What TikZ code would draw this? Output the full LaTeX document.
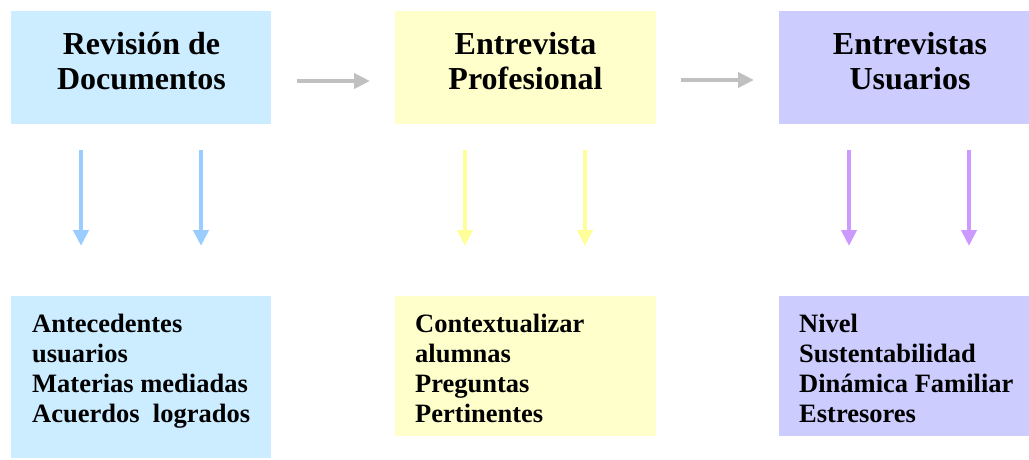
\documentclass[tikz,border=0pt]{standalone}
\usepackage{fontspec}
\setmainfont{Liberation Serif}
\usetikzlibrary{arrows.meta}
\definecolor{boxblue}{HTML}{CCECFF}
\definecolor{boxyellow}{HTML}{FFFFCC}
\definecolor{boxlav}{HTML}{CCCCFF}
\definecolor{arrblue}{HTML}{99CCFF}
\definecolor{arryellow}{HTML}{FFFF99}
\definecolor{arrpurple}{HTML}{CC99FF}
\definecolor{arrgray}{HTML}{C0C0C0}
\tikzset{
  panel/.style={draw=none, inner sep=0pt, anchor=north west},
  titletext/.style={align=center, inner sep=0pt, font=\bfseries\fontsize{32}{35}\selectfont},
  listtext/.style={align=left, inner sep=0pt, anchor=base west, font=\bfseries\fontsize{26.5}{30}\selectfont},
  flow/.style={line width=4pt, -{Triangle[length=16pt,width=15pt]}},
}
\begin{document}
\begin{tikzpicture}[x=1pt,y=-1pt]
\useasboundingbox (0,0) rectangle (1029,460);
\clip (0,0) rectangle (1029,460);
% top boxes
\node[panel, fill=boxblue, minimum width=260pt, minimum height=113pt] (t1) at (11,11) {};
\node[panel, fill=boxyellow, minimum width=261pt, minimum height=113pt] (t2) at (395,11) {};
\node[panel, fill=boxlav, minimum width=262pt, minimum height=113pt] (t3) at (779,11) {};
% bottom boxes
\node[panel, fill=boxblue, minimum width=260pt, minimum height=162pt] (b1) at (11,296) {};
\node[panel, fill=boxyellow, minimum width=261pt, minimum height=140pt] (b2) at (395,296) {};
\node[panel, fill=boxlav, minimum width=262pt, minimum height=140pt] (b3) at (779,296) {};
% titles
\node[titletext] (tt1) at (141.5,61.5) {Revisión de\\Documentos};
\node[titletext] (tt2) at (525.5,61.5) {Entrevista\\Profesional};
\node[titletext] (tt3) at (910,61.5) {Entrevistas\\Usuarios};
% lists
\node[listtext] (l1) at (32,422) {Antecedentes\\usuarios\\Materias mediadas\\Acuerdos\ \ logrados};
\node[listtext] (l2) at (415,422) {Contextualizar\\alumnas\\Preguntas\\Pertinentes};
\node[listtext] (l3) at (799,422) {Nivel\\Sustentabilidad\\Dinámica Familiar\\Estresores};
% horizontal arrows
\coordinate (h1s) at (297,81); \coordinate (h1e) at (370,81);
\coordinate (h2s) at (681,80); \coordinate (h2e) at (754,80);
\draw[flow, arrgray] (h1s) -- (h1e);
\draw[flow, arrgray] (h2s) -- (h2e);
% vertical arrows
\foreach \x/\c/\n in {81/arrblue/a, 201/arrblue/b, 465/arryellow/c, 585/arryellow/d, 849/arrpurple/e, 969/arrpurple/f}{
  \coordinate (v\n s) at (\x,150);
  \coordinate (v\n e) at (\x,246);
  \draw[flow, \c] (v\n s) -- (v\n e);
}
\end{tikzpicture}
\end{document}
